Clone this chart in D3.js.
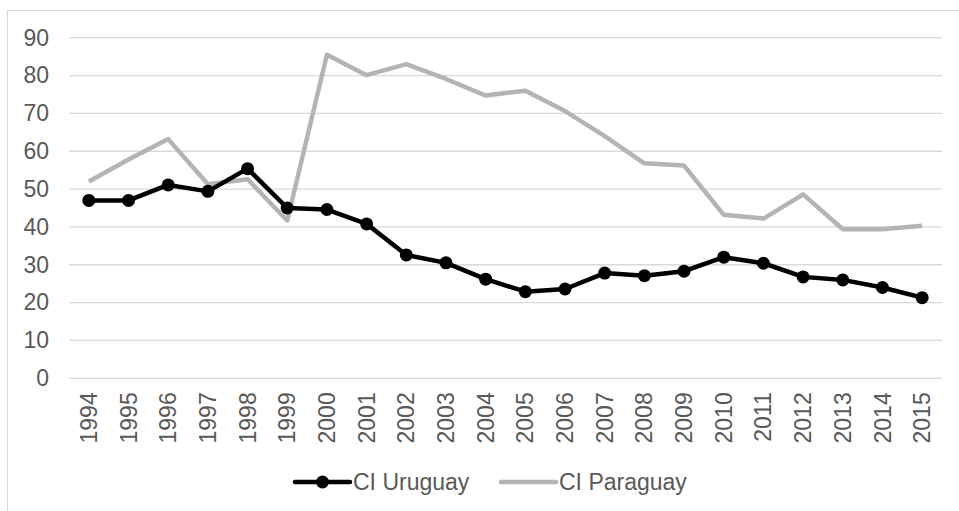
<!DOCTYPE html>
<html>
<head>
<meta charset="utf-8">
<script src="https://cdn.jsdelivr.net/npm/d3@7"></script>
<style>
  body { margin: 0; background: #fff; }
  svg { display: block; font-family: "Liberation Sans", Arial, sans-serif; }
</style>
</head>
<body>
<svg id="chart" width="959" height="511"></svg>
<script>
const years = ['1994', '1995', '1996', '1997', '1998', '1999', '2000', '2001', '2002', '2003', '2004',
    '2005', '2006', '2007', '2008', '2009', '2010', '2011', '2012', '2013', '2014', '2015'];
const uruguay = [47.0, 47.0, 51.1, 49.4, 55.4, 45.0, 44.6, 40.8, 32.6, 30.5, 26.2,
    22.9, 23.6, 27.8, 27.1, 28.3, 32.0, 30.4, 26.8, 26.0, 24.0, 21.3];
const paraguay = [52.0, 57.8, 63.2, 51.3, 52.6, 41.7, 85.5, 80.1, 83.0, 79.1, 74.7,
    76.0, 70.6, 64.0, 56.8, 56.2, 43.2, 42.2, 48.6, 39.4, 39.4, 40.3];
const yTicks = [0, 10, 20, 30, 40, 50, 60, 70, 80, 90];
const seriesNames = ['CI Uruguay', 'CI Paraguay'];

const svg = d3.select('#chart');
const plotLeft = 69, plotRight = 942, plotTop = 37.7, plotBottom = 378.3;
const fontSize = 23;

// chart area border (cut off on the right and bottom like the original)
svg.append('rect')
    .attr('x', 7.5).attr('y', 10.5)
    .attr('width', 960).attr('height', 510)
    .attr('fill', 'none').attr('stroke', '#d9d9d9').attr('stroke-width', 1);

const x = d3.scaleBand().domain(years).range([plotLeft, plotRight]);
const y = d3.scaleLinear().domain([0, 90]).range([plotBottom, plotTop]);

// gridlines
svg.append('g').selectAll('line').data(yTicks).join('line')
    .attr('x1', plotLeft).attr('x2', plotRight)
    .attr('y1', d => y(d)).attr('y2', d => y(d))
    .attr('stroke', '#d9d9d9').attr('stroke-width', 1.3);

// y axis labels
const yAxis = svg.append('g')
    .attr('transform', `translate(${plotLeft - 20},0)`)
    .call(d3.axisLeft(y).tickValues(yTicks).tickSize(0).tickPadding(0));
yAxis.select('.domain').remove();
yAxis.selectAll('text')
    .attr('font-size', fontSize).attr('fill', '#595959')
    .attr('font-family', '"Liberation Sans", Arial, sans-serif');

// x axis labels, rotated
const xAxis = svg.append('g')
    .attr('transform', `translate(0,${plotBottom})`)
    .call(d3.axisBottom(x).tickSize(0).tickPadding(0));
xAxis.select('.domain').remove();
xAxis.selectAll('text')
    .attr('font-size', fontSize).attr('fill', '#595959')
    .attr('font-family', '"Liberation Sans", Arial, sans-serif')
    .attr('transform', 'rotate(-90)')
    .attr('text-anchor', 'end')
    .attr('dy', '0.35em')
    .attr('x', -14).attr('y', 0);

const cx = (d, i) => x(years[i]) + x.bandwidth() / 2;
const line = d3.line().x(cx).y(d => y(d));

svg.append('path').datum(paraguay)
    .attr('fill', 'none').attr('stroke', '#b4b4b4')
    .attr('stroke-width', 4.5).attr('stroke-linejoin', 'round')
    .attr('d', line);

svg.append('path').datum(uruguay)
    .attr('fill', 'none').attr('stroke', '#000')
    .attr('stroke-width', 4.5).attr('stroke-linejoin', 'round')
    .attr('d', line);

svg.append('g').selectAll('circle').data(uruguay).join('circle')
    .attr('cx', cx).attr('cy', d => y(d))
    .attr('r', 6.5).attr('fill', '#000');

// legend
const legend = svg.append('g').attr('font-size', fontSize).attr('fill', '#595959');
const legendX = [295, 501];
seriesNames.forEach((name, i) => {
    const g = legend.append('g').attr('transform', `translate(${legendX[i]},482)`);
    g.append('line').attr('x1', 0).attr('x2', 55)
        .attr('stroke', i === 0 ? '#000' : '#b4b4b4').attr('stroke-width', 4.5)
        .attr('stroke-linecap', 'round');
    if (i === 0) g.append('circle').attr('cx', 27.5).attr('r', 6.5).attr('fill', '#000');
    g.append('text').attr('x', 58).attr('dy', '0.35em').text(name);
});
</script>
</body>
</html>
